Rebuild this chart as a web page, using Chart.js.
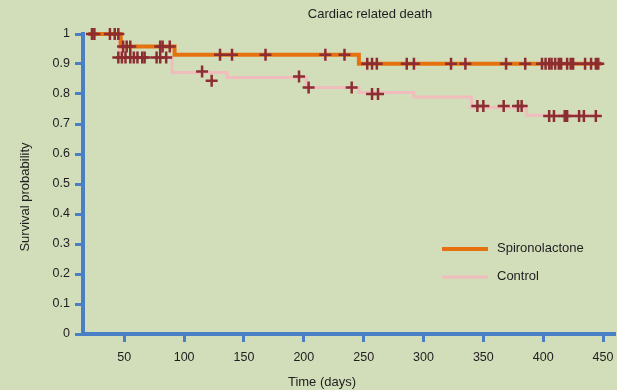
<!DOCTYPE html>
<html>
<head>
<meta charset="utf-8">
<script src="https://cdn.jsdelivr.net/npm/chart.js@4/dist/chart.umd.min.js"></script>
<style>
  html, body { margin: 0; padding: 0; background: #d2ddba; }
  #wrap { width: 617px; height: 390px; }
</style>
</head>
<body>
<div id="wrap"><canvas id="km" width="617" height="390"></canvas></div>
<script>
// Kaplan-Meier curves (days, survival)
const spiroDays = [20, 47, 92, 246, 449];
const spiroSurv = [1, 0.958, 0.931, 0.901, 0.901];
const controlDays = [20, 46, 90, 136, 202, 246, 292, 340, 386, 448];
const controlSurv = [1, 0.922, 0.872, 0.855, 0.822, 0.805, 0.79, 0.755, 0.729, 0.729];

// censoring marks
const spiroCensorDays = [23, 25, 38, 42, 45, 49, 52, 55, 80, 82, 88, 130, 140, 168, 218, 234,
  253, 257, 261, 286, 292, 323, 335, 369, 385, 399, 402, 405, 407, 410, 413, 415, 420, 423, 425, 435, 440, 444, 446];
const spiroCensorSurv = [1, 1, 1, 1, 1, 0.958, 0.958, 0.958, 0.958, 0.958, 0.958,
  0.931, 0.931, 0.931, 0.931, 0.931,
  0.901, 0.901, 0.901, 0.901, 0.901, 0.901, 0.901, 0.901, 0.901, 0.901, 0.901, 0.901,
  0.901, 0.901, 0.901, 0.901, 0.901, 0.901, 0.901, 0.901, 0.901, 0.901, 0.901];
const controlCensorDays = [45, 48, 51, 55, 58, 61, 65, 67, 77, 80, 85, 115, 123, 196, 204, 240, 257, 262,
  345, 350, 367, 379, 382, 405, 409, 418, 420, 430, 434, 444];
const controlCensorSurv = [0.922, 0.922, 0.922, 0.922, 0.922, 0.922, 0.922, 0.922, 0.922, 0.922, 0.922,
  0.875, 0.844, 0.858, 0.822, 0.822, 0.80, 0.80,
  0.76, 0.76, 0.76, 0.76, 0.76, 0.727, 0.727, 0.727, 0.727, 0.727, 0.727, 0.727];

const xTicks = [50, 100, 150, 200, 250, 300, 350, 400, 450];

const AXIS = '#4a7fc6';
const CROSS = '#8c2d32';
const FONT = '"Liberation Sans", Arial, sans-serif';

const pts = (xs, ys) => xs.map((x, i) => ({ x: x, y: ys[i] }));

// background, titles and legend
const decor = {
  id: 'decor',
  beforeDraw(chart) {
    const c = chart.ctx;
    c.save();
    c.fillStyle = '#d2ddba';
    c.fillRect(0, 0, chart.width, chart.height);
    c.restore();
  },
  afterDraw(chart) {
    const c = chart.ctx;
    c.save();
    c.fillStyle = '#1e1e1e';
    c.textAlign = 'center';
    c.textBaseline = 'middle';
    c.font = '13px ' + FONT;
    c.fillText('Cardiac related death', 370, 14);
    c.fillText('Time (days)', 322, 382);
    c.translate(25, 197);
    c.rotate(-Math.PI / 2);
    c.fillText('Survival probability', 0, 0);
    c.restore();

    c.save();
    c.font = '13px ' + FONT;
    c.textBaseline = 'middle';
    c.textAlign = 'left';
    [0, 1].forEach((di, i) => {
      const ds = chart.data.datasets[di];
      const y = 249 + i * 28;
      c.strokeStyle = ds.borderColor;
      c.lineWidth = ds.borderWidth;
      c.beginPath();
      c.moveTo(442, y);
      c.lineTo(488, y);
      c.stroke();
      c.fillStyle = '#1e1e1e';
      c.fillText(ds.label, 497, y - 1);
    });
    c.restore();
  }
};

new Chart(document.getElementById('km'), {
  type: 'line',
  data: {
    datasets: [
      { label: 'Spironolactone', data: pts(spiroDays, spiroSurv), stepped: 'before',
        borderColor: '#e5720f', borderWidth: 4, pointRadius: 0, order: 1, clip: 8 },
      { label: 'Control', data: pts(controlDays, controlSurv), stepped: 'before',
        borderColor: '#f0bcbc', borderWidth: 3, pointRadius: 0, order: 2, clip: 8 },
      { type: 'scatter', label: 'censored S', data: pts(spiroCensorDays, spiroCensorSurv),
        pointStyle: 'cross', pointRadius: 6, borderWidth: 2.5, borderColor: CROSS, order: 0, clip: 8 },
      { type: 'scatter', label: 'censored C', data: pts(controlCensorDays, controlCensorSurv),
        pointStyle: 'cross', pointRadius: 6, borderWidth: 2.5, borderColor: CROSS, order: 0, clip: 8 }
    ]
  },
  options: {
    responsive: false,
    animation: false,
    layout: { autoPadding: false, padding: { top: 34, right: 2, left: 0, bottom: 0 } },
    plugins: { legend: { display: false }, title: { display: false }, tooltip: { enabled: false } },
    scales: {
      x: {
        type: 'linear', min: 15.5, max: 460,
        afterBuildTicks: s => { s.ticks = xTicks.map(v => ({ value: v })); },
        afterFit: s => { s.height = 56; s.paddingLeft = 0; s.paddingRight = 0; },
        border: { color: AXIS, width: 4 },
        grid: { drawOnChartArea: false, drawTicks: true, tickLength: 8, tickColor: AXIS, tickWidth: 3 },
        ticks: { color: '#1e1e1e', font: { family: FONT, size: 12.5 }, padding: 8, maxRotation: 0 }
      },
      y: {
        min: 0, max: 1,
        afterFit: s => { s.width = 83; s.paddingTop = 0; s.paddingBottom = 0; },
        border: { color: AXIS, width: 4 },
        grid: { drawOnChartArea: false, drawTicks: true, tickLength: 8, tickColor: AXIS, tickWidth: 3 },
        ticks: { stepSize: 0.1, color: '#1e1e1e', font: { family: FONT, size: 12.5 }, padding: 5,
          callback: v => Math.round(v * 10) / 10 }
      }
    }
  },
  plugins: [decor]
});
</script>
</body>
</html>
